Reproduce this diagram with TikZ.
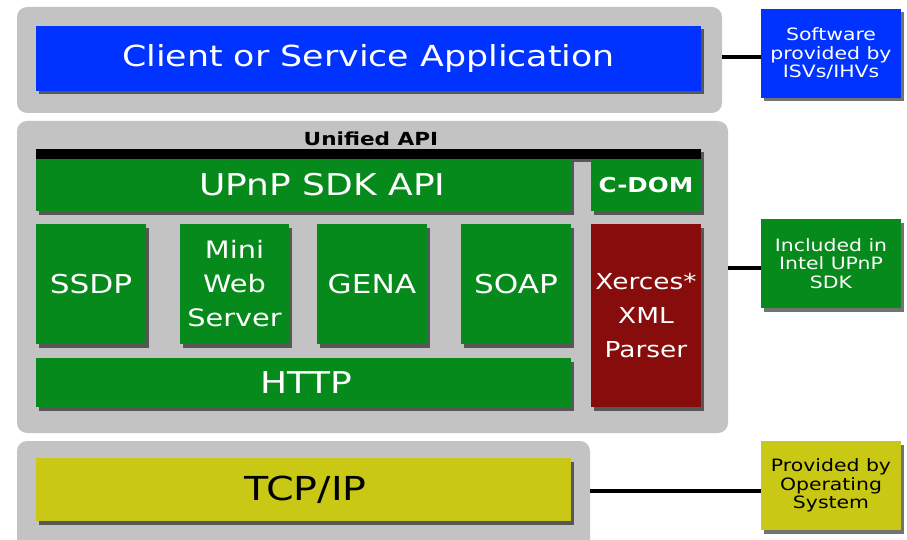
\documentclass[tikz,border=0pt]{standalone}
\usepackage{fontspec}
\setmainfont{DejaVu Sans}[FakeStretch=1.2]
\usetikzlibrary{shadows}
\definecolor{panelgray}{HTML}{C3C3C3}
\definecolor{appblue}{HTML}{0033FF}
\definecolor{sdkgreen}{HTML}{078A1C}
\definecolor{xmlred}{HTML}{870C0C}
\definecolor{osyellow}{HTML}{C8C815}
\begin{document}
\begin{tikzpicture}[x=1pt,y=-1pt,
  panel/.style={fill=panelgray, rounded corners=10pt, draw=none, anchor=north west,
    inner sep=0pt, outer sep=0pt},
  blk/.style={anchor=north west, inner sep=0pt, outer sep=0pt, align=center, text=white,
    drop shadow={shadow xshift=3pt, shadow yshift=-3.5pt, opacity=0.55, fill=black}},
  side/.style={blk, minimum width=140pt, minimum height=89pt,
    font=\fontsize{17}{18.5}\selectfont},
  link/.style={line width=3.5pt, black}]
\useasboundingbox (0,0) rectangle (907,540);
\clip (0,0) rectangle (907,540);

% grey layer panels
\node[panel, minimum width=705pt, minimum height=106pt] (toppanel) at (17,7) {};
\node[panel, minimum width=711pt, minimum height=312pt] (midpanel) at (17,121) {};
\node[panel, minimum width=573pt, minimum height=115pt] (botpanel) at (17,441) {};

% application layer
\node[blk, fill=appblue, minimum width=665pt, minimum height=65pt,
  font=\fontsize{29}{34}\selectfont] (app) at (36,26) {Client or Service Application};

% SDK layer
\node[font=\bfseries\fontsize{18}{20}\selectfont, anchor=south, inner sep=0pt] (unified) at (371,146) {Unified API};
\node[blk, fill=black, minimum width=665pt, minimum height=10pt] (bar) at (36,149) {};
\node[blk, fill=sdkgreen, minimum width=535pt, minimum height=52pt,
  font=\fontsize{30}{34}\selectfont] (sdkapi) at (36,159) {\hspace*{38pt}UPnP SDK API};
\node[blk, fill=sdkgreen, minimum width=110pt, minimum height=52pt,
  font=\bfseries\fontsize{20.5}{24}\selectfont] (cdom) at (591,159) {C-DOM};
\node[blk, fill=sdkgreen, minimum width=110pt, minimum height=120pt,
  font=\fontsize{26}{34}\selectfont] (ssdp) at (36,224) {SSDP};
\node[blk, fill=sdkgreen, minimum width=109pt, minimum height=120pt,
  font=\fontsize{24}{34}\selectfont] (mws) at (180,224) {Mini\\Web\\Server};
\node[blk, fill=sdkgreen, minimum width=110pt, minimum height=120pt,
  font=\fontsize{26}{34}\selectfont] (gena) at (317,224) {GENA};
\node[blk, fill=sdkgreen, minimum width=110pt, minimum height=120pt,
  font=\fontsize{26}{34}\selectfont] (soap) at (461,224) {SOAP};
\node[blk, fill=xmlred, minimum width=110pt, minimum height=183pt,
  font=\fontsize{22}{34}\selectfont] (xml) at (591,224) {Xerces*\\XML\\Parser};
\node[blk, fill=sdkgreen, minimum width=535pt, minimum height=49pt,
  font=\fontsize{30}{34}\selectfont] (http) at (36,358) {\hspace*{6pt}HTTP};

% operating system layer
\node[blk, fill=osyellow, text=black, minimum width=535pt, minimum height=63pt,
  font=\fontsize{33}{36}\selectfont] (tcpip) at (36,458) {\hspace*{4pt}TCP/IP};

% legend boxes
\node[side, fill=appblue] (isv) at (761,9) {Software\\provided by\\ISVs/IHVs};
\node[side, fill=sdkgreen] (intel) at (761,219) {Included in\\Intel UPnP\\SDK};
\node[side, fill=osyellow, text=black] (os) at (761,441) {Provided by\\Operating\\System};

% connectors from layers to legend
\draw[link] ([yshift=-3.5pt]isv.west) -- ([yshift=-3.5pt]isv.west -| toppanel.east);
\draw[link] ([yshift=-4.5pt]intel.west) -- ([yshift=-4.5pt]intel.west -| midpanel.east);
\draw[link] ([yshift=-5.5pt]os.west) -- ([yshift=-5.5pt]os.west -| botpanel.east);
\end{tikzpicture}
\end{document}
